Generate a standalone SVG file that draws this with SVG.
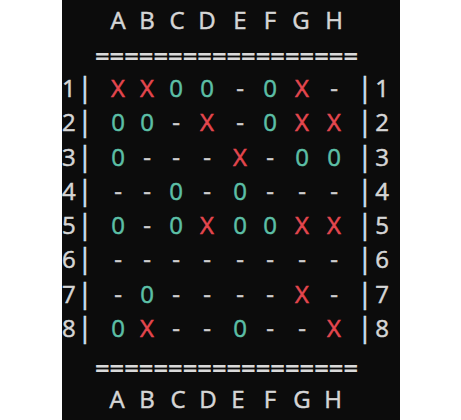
<svg xmlns="http://www.w3.org/2000/svg" width="461" height="420" viewBox="0 0 461 420">
<style>
  text { font-family: "Open Sans", "Noto Sans", "DejaVu Sans", sans-serif; font-size: 24px; text-anchor: middle; fill: #d6d6d6; stroke: #d6d6d6; stroke-width: 0.5px; }
  .x { fill: #e4474f; stroke: #e4474f; }
  .o { fill: #5cbfa6; stroke: #5cbfa6; }
  .d { fill: #cfcfcf; stroke: #cfcfcf; }
  .p { fill: #cde2ee; stroke: #cde2ee; font-size: 27px; }
  .eq { text-anchor: start; fill: #dadada; stroke: none; font-weight: bold; }
  .l { text-anchor: start; }
</style>
<rect x="0" y="0" width="461" height="420" fill="#ffffff"/>
<rect x="62" y="0" width="338" height="420" fill="#0c0c0c"/>
<g id="header-top">
  <text x="118" y="29">A</text><text x="147" y="29">B</text><text x="177" y="29">C</text><text x="207" y="29">D</text><text x="240" y="29">E</text><text x="270" y="29">F</text><text x="301" y="29">G</text><text x="334" y="29">H</text>
</g>
<g id="rule-top"><text class="eq" x="95" y="65" textLength="263" lengthAdjust="spacingAndGlyphs">==================</text></g>
<g id="row1">
  <text class="l" x="62" y="97">1</text><text class="p" x="85" y="97">|</text>
  <text class="x" x="118" y="97">X</text><text class="x" x="147" y="97">X</text><text class="o" x="176" y="97">0</text><text class="o" x="207" y="97">0</text><text class="d" x="240" y="97">-</text><text class="o" x="270" y="97">0</text><text class="x" x="302" y="97">X</text><text class="d" x="334" y="97">-</text>
  <text class="p" x="365" y="97">|</text><text x="382" y="97">1</text>
</g>
<g id="row2">
  <text class="l" x="62" y="131">2</text><text class="p" x="85" y="131">|</text>
  <text class="o" x="118" y="131">0</text><text class="o" x="147" y="131">0</text><text class="d" x="176" y="131">-</text><text class="x" x="207" y="131">X</text><text class="d" x="240" y="131">-</text><text class="o" x="270" y="131">0</text><text class="x" x="302" y="131">X</text><text class="x" x="334" y="131">X</text>
  <text class="p" x="365" y="131">|</text><text x="382" y="131">2</text>
</g>
<g id="row3">
  <text class="l" x="62" y="166">3</text><text class="p" x="85" y="166">|</text>
  <text class="o" x="118" y="166">0</text><text class="d" x="147" y="166">-</text><text class="d" x="176" y="166">-</text><text class="d" x="207" y="166">-</text><text class="x" x="240" y="166">X</text><text class="d" x="270" y="166">-</text><text class="o" x="302" y="166">0</text><text class="o" x="334" y="166">0</text>
  <text class="p" x="365" y="166">|</text><text x="382" y="166">3</text>
</g>
<g id="row4">
  <text class="l" x="62" y="200">4</text><text class="p" x="85" y="200">|</text>
  <text class="d" x="118" y="200">-</text><text class="d" x="147" y="200">-</text><text class="o" x="176" y="200">0</text><text class="d" x="207" y="200">-</text><text class="o" x="240" y="200">0</text><text class="d" x="270" y="200">-</text><text class="d" x="302" y="200">-</text><text class="d" x="334" y="200">-</text>
  <text class="p" x="365" y="200">|</text><text x="382" y="200">4</text>
</g>
<g id="row5">
  <text class="l" x="62" y="234">5</text><text class="p" x="85" y="234">|</text>
  <text class="o" x="118" y="234">0</text><text class="d" x="147" y="234">-</text><text class="o" x="176" y="234">0</text><text class="x" x="207" y="234">X</text><text class="o" x="240" y="234">0</text><text class="o" x="270" y="234">0</text><text class="x" x="302" y="234">X</text><text class="x" x="334" y="234">X</text>
  <text class="p" x="365" y="234">|</text><text x="382" y="234">5</text>
</g>
<g id="row6">
  <text class="l" x="62" y="268">6</text><text class="p" x="85" y="268">|</text>
  <text class="d" x="118" y="268">-</text><text class="d" x="147" y="268">-</text><text class="d" x="176" y="268">-</text><text class="d" x="207" y="268">-</text><text class="d" x="240" y="268">-</text><text class="d" x="270" y="268">-</text><text class="d" x="302" y="268">-</text><text class="d" x="334" y="268">-</text>
  <text class="p" x="365" y="268">|</text><text x="382" y="268">6</text>
</g>
<g id="row7">
  <text class="l" x="62" y="303">7</text><text class="p" x="85" y="303">|</text>
  <text class="d" x="118" y="303">-</text><text class="o" x="147" y="303">0</text><text class="d" x="176" y="303">-</text><text class="d" x="207" y="303">-</text><text class="d" x="240" y="303">-</text><text class="d" x="270" y="303">-</text><text class="x" x="302" y="303">X</text><text class="d" x="334" y="303">-</text>
  <text class="p" x="365" y="303">|</text><text x="382" y="303">7</text>
</g>
<g id="row8">
  <text class="l" x="62" y="337">8</text><text class="p" x="85" y="337">|</text>
  <text class="o" x="118" y="337">0</text><text class="x" x="147" y="337">X</text><text class="d" x="176" y="337">-</text><text class="d" x="207" y="337">-</text><text class="o" x="240" y="337">0</text><text class="d" x="270" y="337">-</text><text class="d" x="302" y="337">-</text><text class="x" x="334" y="337">X</text>
  <text class="p" x="365" y="337">|</text><text x="382" y="337">8</text>
</g>
<g id="rule-bottom"><text class="eq" x="95" y="377" textLength="263" lengthAdjust="spacingAndGlyphs">==================</text></g>
<g id="header-bottom">
  <text x="117" y="408">A</text><text x="147" y="408">B</text><text x="178" y="408">C</text><text x="208" y="408">D</text><text x="238" y="408">E</text><text x="270" y="408">F</text><text x="302" y="408">G</text><text x="333" y="408">H</text>
</g>
</svg>
